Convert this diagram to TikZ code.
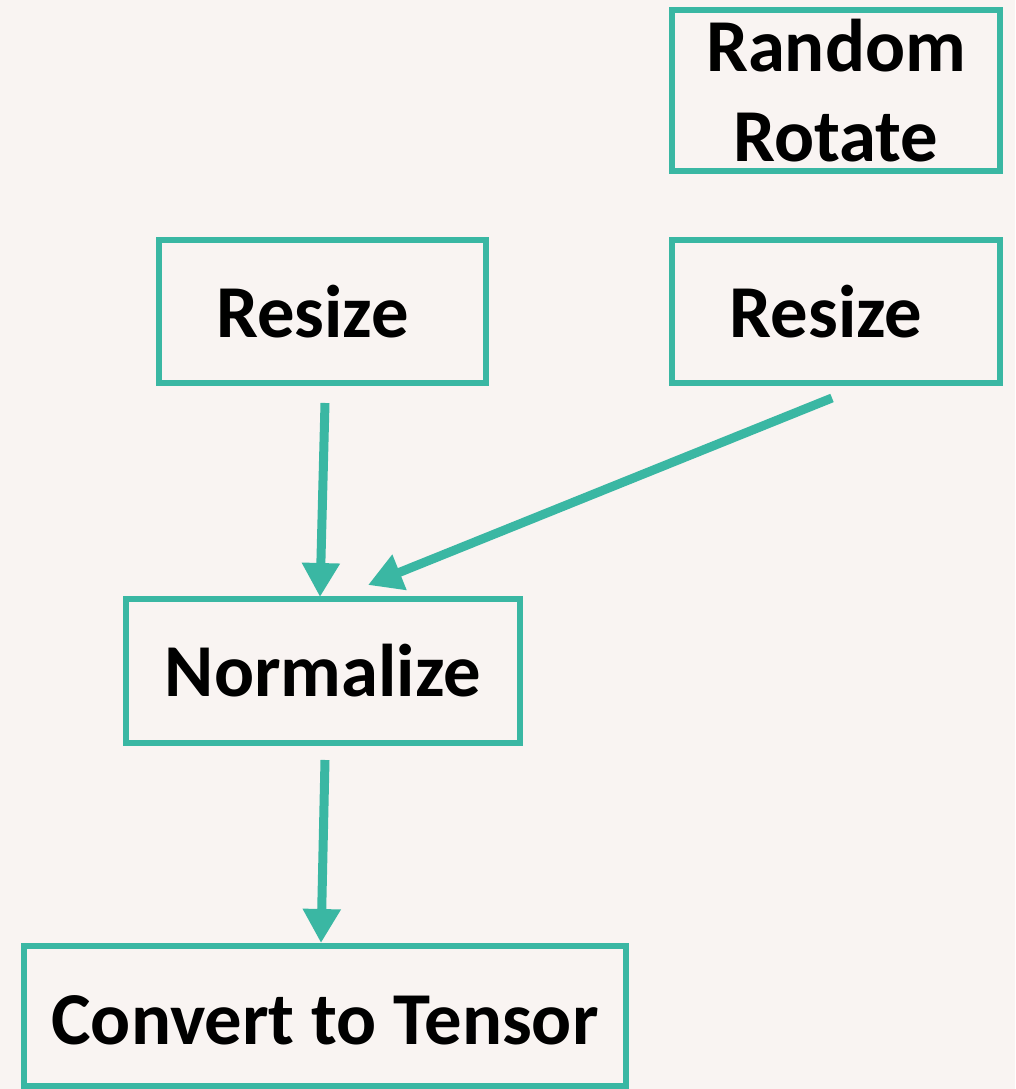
\documentclass[tikz,border=0pt]{standalone}
\usepackage{fontspec}
\setmainfont{Carlito}
\usetikzlibrary{arrows.meta,calc}
\definecolor{teal}{HTML}{3AB7A3}
\definecolor{paper}{HTML}{F9F4F2}
\begin{document}
\begin{tikzpicture}[x=0.02cm,y=-0.02cm,
  stage/.style={draw=teal,line width=0.12cm,outer sep=0pt,inner sep=0pt,
    align=center,font=\fontsize{42.5}{51}\selectfont\bfseries},
  flow/.style={draw=teal,line width=0.18cm,
    -{Triangle[length=0.68cm,width=0.72cm]}}]
  % page background
  \fill[paper] (0,0) rectangle (1015,1089);
  \useasboundingbox (0,0) rectangle (1015,1089);
  % processing stages
  \node[stage,minimum width=6.56cm,minimum height=3.22cm] (rot) at (836,90.5) {Random\\Rotate};
  \node[stage,minimum width=6.54cm,minimum height=2.86cm] (rl) at (322.5,311.5) {Resize\hspace{0.4cm}};
  \node[stage,minimum width=6.56cm,minimum height=2.86cm] (rr) at (836,311.5) {Resize\hspace{0.4cm}};
  \node[stage,minimum width=7.88cm,minimum height=2.88cm] (nm) at (323,671) {Normalize};
  \node[stage,minimum width=12.04cm,minimum height=2.80cm,text height=1.16cm] (ct) at (325,1016) {Convert to Tensor};
  % connectors
  \draw[flow] ($(rl.south)+(2.5,20)$) -- ($(nm.north)+(-3,-2)$);
  \draw[flow] ($(rr.south)+(-4,15)$) -- ($(nm.north)+(45,-14)$);
  \draw[flow] ($(nm.south)+(2,17)$) -- ($(ct.north)+(-4,-3)$);
\end{tikzpicture}
\end{document}
